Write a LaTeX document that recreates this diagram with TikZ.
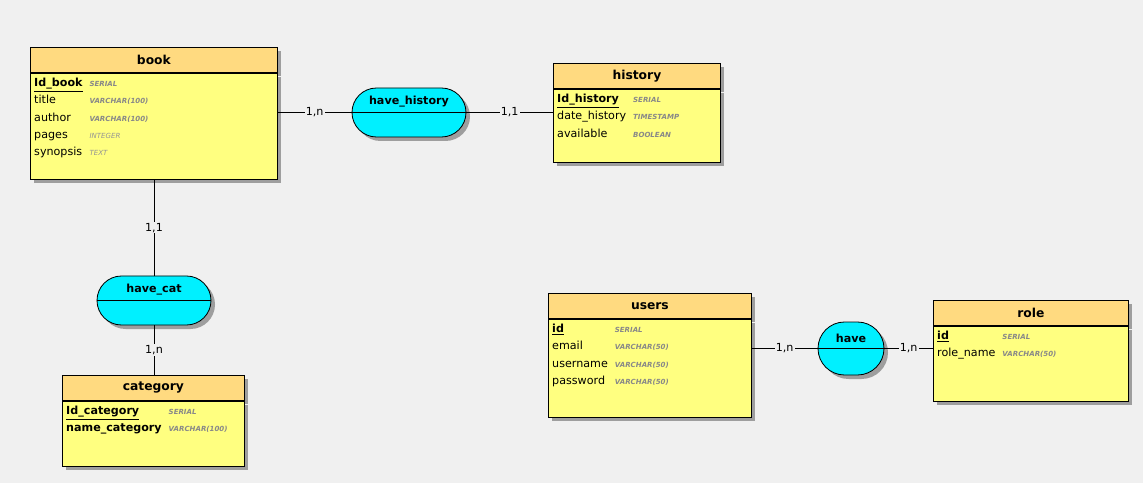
\documentclass[tikz,border=0pt]{standalone}
\usepackage{fontspec}
\setmainfont{DejaVu Sans}
\usetikzlibrary{positioning,shapes.misc,shadows}
\newdimen\pu \pu=0.03cm
\definecolor{bgcol}{HTML}{F0F0F0}
\definecolor{headcol}{HTML}{FFDA80}
\definecolor{bodycol}{HTML}{FFFF80}
\definecolor{relcol}{HTML}{00F0FF}
\definecolor{typecol}{HTML}{888888}
\newcommand\key[1]{\textbf{\underline{#1}}}
\newcommand\typ[1]{{\fontsize{6}{6}\selectfont\bfseries\itshape\color{typecol}#1}}
\newcommand\typl[1]{{\fontsize{6}{6}\selectfont\itshape\color{typecol!90}#1}}
\tikzset{
  boxshadow/.style={general shadow={fill=black!38, shadow xshift=4\pu, shadow yshift=-4\pu}},
  enthead/.style={draw=black, line width=0.7pt, fill=headcol, boxshadow, anchor=north west,
    minimum height=25\pu, inner sep=0pt, font=\fontsize{10.5}{12}\selectfont\bfseries},
  entbody/.style={draw=black, line width=0.7pt, fill=bodycol, boxshadow, inner sep=0pt},
  attrs/.style={anchor=north west, inner sep=0pt, align=left, font=\fontsize{9.5}{14.7}\selectfont},
  rel/.style={rounded rectangle, draw=black, line width=0.7pt, fill=relcol, boxshadow, inner sep=0pt},
  reltext/.style={font=\fontsize{9.5}{11}\selectfont\bfseries, inner sep=0pt},
  card/.style={fill=bgcol, inner sep=1pt, font=\fontsize{9.5}{11}\selectfont},
  link/.style={draw=black, line width=0.7pt}
}
\begin{document}
\begin{tikzpicture}[x=0.03cm, y=-0.03cm]
  \fill[bgcol] (0,0) rectangle (1143,483);

  % entities
  \node[enthead, minimum width=247\pu] (bookhead) at (30,47) {book};
  \node[entbody, below=0pt of bookhead, minimum width=247\pu, minimum height=106\pu] (bookbody) {};
  \node[attrs] (bookattrs) at ([shift={(4\pu,-1.5\pu)}]bookbody.north west) {%
    \begin{tabular}{@{}l@{\hspace{7\pu}}l@{}}
      \key{Id\_book} & \typ{SERIAL}\\
      title & \typ{VARCHAR(100)}\\
      author & \typ{VARCHAR(100)}\\
      pages & \typl{INTEGER}\\
      synopsis & \typl{TEXT}
    \end{tabular}};

  \node[enthead, minimum width=167\pu] (histhead) at (553,63) {history};
  \node[entbody, below=0pt of histhead, minimum width=167\pu, minimum height=73\pu] (histbody) {};
  \node[attrs] (histattrs) at ([shift={(4\pu,-1.5\pu)}]histbody.north west) {%
    \begin{tabular}{@{}l@{\hspace{7\pu}}l@{}}
      \key{Id\_history} & \typ{SERIAL}\\
      date\_history & \typ{TIMESTAMP}\\
      available & \typ{BOOLEAN}
    \end{tabular}};

  \node[enthead, minimum width=182\pu] (cathead) at (62,375) {category};
  \node[entbody, below=0pt of cathead, minimum width=182\pu, minimum height=65\pu] (catbody) {};
  \node[attrs] (catattrs) at ([shift={(4\pu,-1.5\pu)}]catbody.north west) {%
    \begin{tabular}{@{}l@{\hspace{7\pu}}l@{}}
      \key{Id\_category} & \typ{SERIAL}\\
      \textbf{name\_category} & \typ{VARCHAR(100)}
    \end{tabular}};

  \node[enthead, minimum width=203\pu] (usershead) at (548,293) {users};
  \node[entbody, below=0pt of usershead, minimum width=203\pu, minimum height=98\pu] (usersbody) {};
  \node[attrs] (usersattrs) at ([shift={(4\pu,-1.5\pu)}]usersbody.north west) {%
    \begin{tabular}{@{}l@{\hspace{7\pu}}l@{}}
      \key{id} & \typ{SERIAL}\\
      email & \typ{VARCHAR(50)}\\
      username & \typ{VARCHAR(50)}\\
      password & \typ{VARCHAR(50)}
    \end{tabular}};

  \node[enthead, minimum width=195\pu] (rolehead) at (933,300) {role};
  \node[entbody, below=0pt of rolehead, minimum width=195\pu, minimum height=75\pu] (rolebody) {};
  \node[attrs] (roleattrs) at ([shift={(4\pu,-1.5\pu)}]rolebody.north west) {%
    \begin{tabular}{@{}l@{\hspace{7\pu}}l@{}}
      \key{id} & \typ{SERIAL}\\
      role\_name & \typ{VARCHAR(50)}
    \end{tabular}};

  % relations
  \node[rel, minimum width=114\pu, minimum height=49\pu] (havehist) at (409,112.5) {};
  \draw[link] (havehist.west) -- (havehist.east);
  \node[reltext] at ([yshift=11\pu]havehist.center) {have\_history};

  \node[rel, minimum width=114\pu, minimum height=49\pu] (havecat) at (154,300.5) {};
  \draw[link] (havecat.west) -- (havecat.east);
  \node[reltext] at ([yshift=11\pu]havecat.center) {have\_cat};

  \node[rel, minimum width=66\pu, minimum height=53\pu] (have) at (851,348.5) {};
  \draw[link] (have.west) -- (have.east);
  \node[reltext] at ([yshift=10.5\pu]have.center) {have};

  % links
  \draw[link] (havehist.west -| bookbody.east) -- node[card] {1,n} (havehist.west);
  \draw[link] (havehist.east) -- node[card] {1,1} (havehist.east -| histbody.west);
  \draw[link] (havecat.north |- bookbody.south) -- node[card] {1,1} (havecat.north);
  \draw[link] (havecat.south) -- node[card] {1,n} (havecat.south |- cathead.north);
  \draw[link] (have.west -| usersbody.east) -- node[card] {1,n} (have.west);
  \draw[link] (have.east) -- node[card] {1,n} (have.east -| rolebody.west);
\end{tikzpicture}
\end{document}
